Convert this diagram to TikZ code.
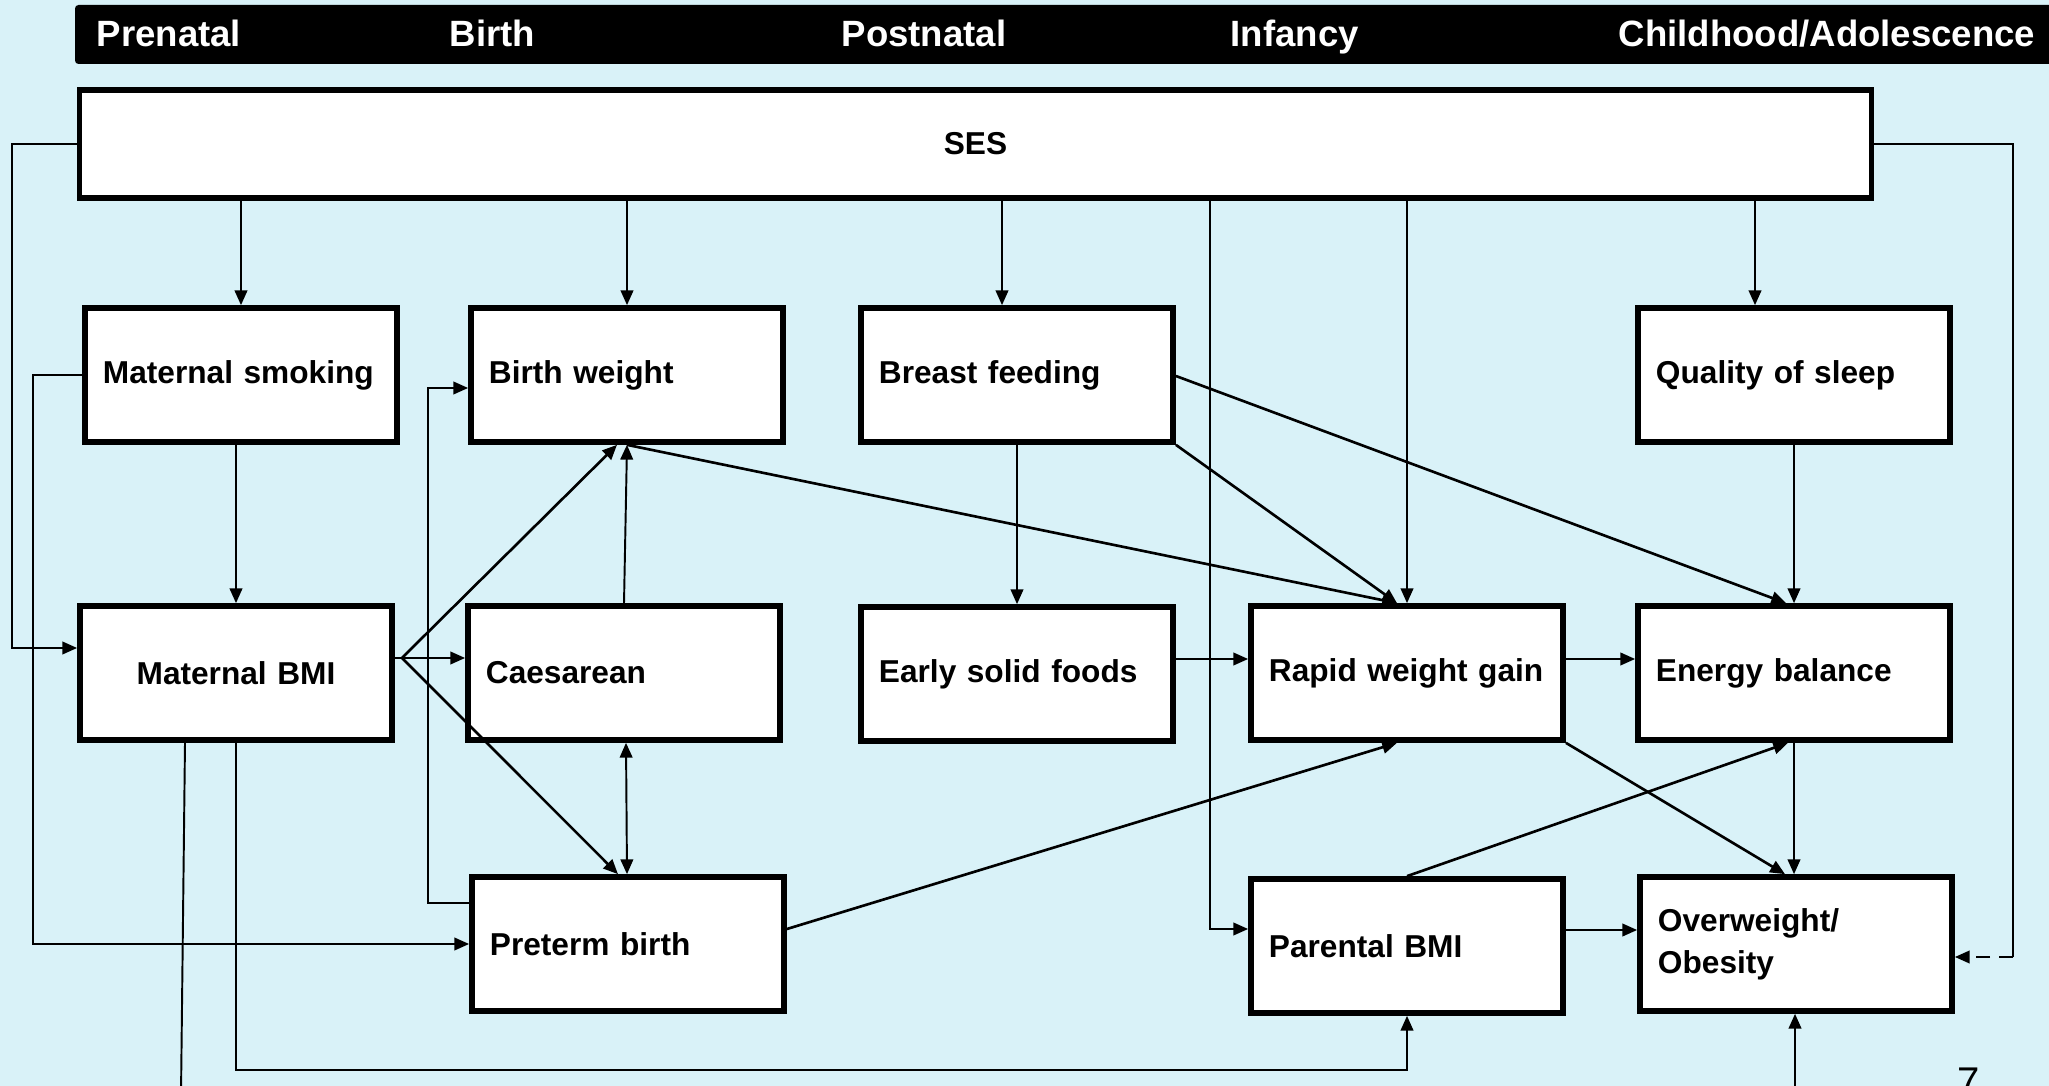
\documentclass[tikz,border=0pt]{standalone}
\usepackage{fontspec}
\setmainfont{Liberation Sans}
\usetikzlibrary{arrows.meta,calc}
\definecolor{slidebg}{RGB}{217,242,248}

\begin{document}
\begin{tikzpicture}[x=0.01cm,y=-0.01cm,
	factor/.style={draw,fill=white,line width=1.6pt,minimum width=3.12cm,minimum height=1.34cm,
		text width=2.76cm,inner xsep=0.18cm,align=left,font=\fontsize{9}{12}\selectfont\bfseries},
	hdr/.style={anchor=base west,inner sep=0pt,text=white,font=\fontsize{10.4}{12}\selectfont\bfseries},
	conn/.style={line width=0.55pt,-{Triangle[length=4.2pt,width=3.6pt]}},
	diag/.style={conn,line width=0.75pt},
	conntwo/.style={line width=0.55pt,{Triangle[length=4.2pt,width=3.6pt]}-{Triangle[length=4.2pt,width=3.6pt]}}]
	\useasboundingbox (0,0) rectangle (2049,1086);
	\fill[slidebg] (0,0) rectangle (2049,1086);
	\fill[black,rounded corners=1pt] (75,5) rectangle (2070,64);
	\node[hdr] (h1) at (96,47) {Prenatal};
	\node[hdr] (h2) at (449,47) {Birth};
	\node[hdr] (h3) at (841,47) {Postnatal};
	\node[hdr] (h4) at (1230,47) {Infancy};
	\node[hdr] (h5) at (1618,47) {Childhood/Adolescence};
	\node[factor,minimum width=17.91cm,minimum height=1.08cm,text width=17.5cm,align=center] (ses) at (975.5,144) {SES};
	\node[factor] (ms) at (241,375) {Maternal smoking};
	\node[factor] (bw) at (627,375) {Birth weight};
	\node[factor] (bf) at (1017,375) {Breast feeding};
	\node[factor] (qs) at (1794,375) {Quality of sleep};
	\node[factor,align=center] (mbmi) at (236,673) {Maternal BMI};
	\node[factor] (cs) at (624,673) {Caesarean};
	\node[factor] (esf) at (1017,674) {Early solid foods};
	\node[factor] (rwg) at (1407,673) {Rapid weight gain};
	\node[factor] (eb) at (1794,673) {Energy balance};
	\node[factor] (pb) at (628,944) {Preterm birth};
	\node[factor] (pbmi) at (1407,946) {Parental BMI};
	\node[factor] (oo) at (1796,944) {Overweight/\\Obesity};
	\node[anchor=base,inner sep=0pt,font=\fontsize{11.4}{12}\selectfont] (pg) at (1969,1095) {7};
	\coordinate (fan) at ($(mbmi.east)+(7,-15)$);
	\coordinate (offl) at (181,1095);
	\coordinate (offr) at (1795,1095);
	\draw[conn] (ses.west) -- ++(-65,0) |- ($(mbmi.west)+(0,-25)$);
	\draw[line width=0.55pt] (ses.east) -- ++(139,0) -- ++(0,813) coordinate (sesd);
	\draw[conn,dash pattern=on 4pt off 2.6pt] (sesd) -- ($(oo.east)+(0,13)$);
	\draw[conn] (ses.south -| ms.north) -- (ms.north);
	\draw[conn] (ses.south -| bw.north) -- (bw.north);
	\draw[conn] ($(ses.south -| bf.north)+(-15,0)$) -- ($(bf.north)+(-15,0)$);
	\draw[conn] ($(ses.south -| pbmi.west)+(-38,0)$) |- ($(pbmi.west)+(0,-17)$);
	\draw[conn] (ses.south -| rwg.north) -- (rwg.north);
	\draw[conn] ($(ses.south -| qs.north)+(-39,0)$) -- ($(qs.north)+(-39,0)$);
	\draw[conn] (ms.south -| mbmi.north) -- (mbmi.north);
	\draw[conn] (ms.west) -- ++(-49,0) |- (pb.west);
	\draw[conn] ($(mbmi.east)+(0,-15)$) -- (cs.west |- fan);
	\draw[diag] (fan) -- ($(bw.south)+(-10,0)$);
	\draw[diag] (fan) -- ($(pb.north)+(-10,0)$);
	\draw[conn] (cs.north) -- (bw.south);
	\draw[conntwo] ($(cs.south)+(2,0)$) -- ($(pb.north)+(-1,0)$);
	\draw[conn] ($(pb.west)+(0,-41)$) -- ++(-41,0) |- ($(bw.west)+(0,13)$);
	\draw[line width=0.55pt] ($(mbmi.south)+(-51,0)$) -- (offl);
	\draw[conn] (mbmi.south) -- ++(0,327) -| (pbmi.south);
	\draw[conn] (bf.south) -- (esf.north);
	\draw[diag] (bw.south) -- ($(rwg.north)+(-10,0)$);
	\draw[diag] (bf.south east) -- ($(rwg.north)+(-10,0)$);
	\draw[diag] ($(bf.east)+(0,1)$) -- ($(eb.north)+(-8,0)$);
	\draw[conn] (qs.south) -- (eb.north);
	\draw[conn] ($(esf.east)+(0,-15)$) -- ($(rwg.west)+(0,-14)$);
	\draw[conn] ($(rwg.east)+(0,-14)$) -- ($(eb.west)+(0,-14)$);
	\draw[diag] ($(pb.east)+(0,-15)$) -- ($(rwg.south)+(-10,0)$);
	\draw[diag] (rwg.south east) -- ($(oo.north)+(-11,0)$);
	\draw[diag] (pbmi.north) -- ($(eb.south)+(-6,0)$);
	\draw[conn] (eb.south) -- (eb.south |- oo.north);
	\draw[conn] ($(pbmi.east)+(0,-16)$) -- ($(oo.west)+(0,-14)$);
	\draw[conn] (offr) -- (offr |- oo.south);
\end{tikzpicture}
\end{document}
